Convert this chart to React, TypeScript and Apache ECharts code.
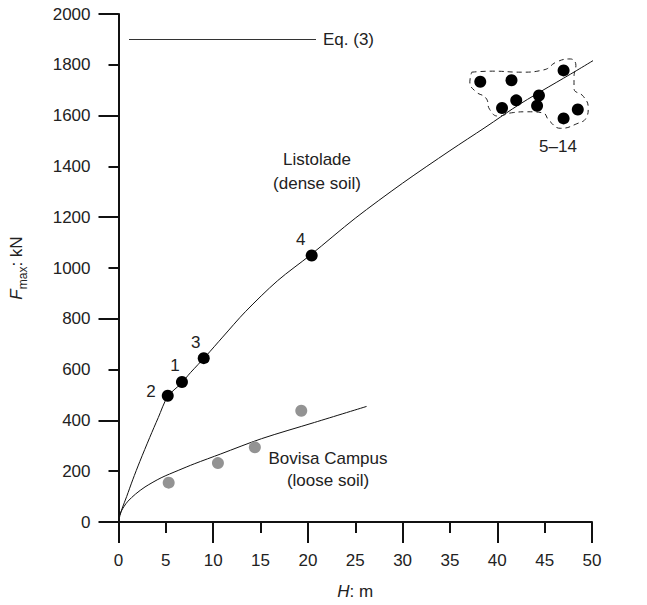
import React, { useEffect, useRef } from "react";
import * as echarts from "echarts";

// Eq. (3) curves
const listoladeCurveH = [0, 0.15, 0.4, 0.86, 1.5, 2.25, 3.3, 4.2, 5.2, 6.6, 7.6, 9.2, 11, 13.4, 16.8, 20.3, 25, 30, 35, 38.7, 42.5, 48.4, 52.4];
const listoladeCurveF = [0, 25, 55, 100, 166, 238, 333, 411, 494, 545, 588, 652, 728, 828, 950, 1052, 1196, 1334, 1462, 1553, 1648, 1778, 1868];
const bovisaCurveH = [0, 0.1, 0.3, 0.6, 1.0, 1.8, 2.8, 4.5, 6.3, 8.0, 10.8, 15.1, 20.7, 26.2];
const bovisaCurveF = [0, 25, 43, 62, 82, 110, 138, 174, 203, 229, 268, 328, 392, 455];

// Listolade piles 1-4
const pileLabels = ["2", "1", "3", "4"];
const pileH = [5.2, 6.7, 9.0, 20.4];
const pileF = [497, 551, 645, 1049];

// Listolade piles 5-14
const clusterH = [38.2, 41.5, 47.0, 44.4, 44.2, 42.0, 40.5, 48.5, 47.0];
const clusterF = [1733, 1739, 1778, 1679, 1639, 1660, 1630, 1624, 1589];

// Bovisa Campus piles
const bovisaH = [5.3, 10.5, 14.4, 19.3];
const bovisaF = [155, 232, 294, 438];

// dashed outline around piles 5-14
const outlineH = [37.3, 39.5, 42.5, 44.9, 46.3, 47.7, 48.3, 48.1, 48.1, 49.1, 49.6, 49.4, 48.4, 46.7, 45.5, 44.8, 43.2, 41.5, 40.1, 39.2, 38.8, 37.7, 37.1, 37.3];
const outlineF = [1771, 1775, 1771, 1780, 1812, 1823, 1797, 1752, 1707, 1675, 1630, 1592, 1568, 1550, 1579, 1611, 1615, 1611, 1598, 1624, 1669, 1695, 1733, 1771];

const xMin = 0, xMax = 50, yMin = 0, yMax = 2000;

const zip = (a: number[], b: number[]) => a.map((v, i) => [v, b[i]]);

const pileLabelPos: any[] = [
  { position: "left", distance: 6, offset: [0, -4] },
  { position: "top", offset: [-7, 3] },
  { position: "top", offset: [-8, 4] },
  { position: "top", offset: [-11, 3] },
];

export default function App() {
  const ref = useRef<HTMLDivElement>(null);
  useEffect(() => {
    const chart = echarts.init(ref.current!, undefined, { renderer: "svg" });
    const font = "Arial, 'Liberation Sans', sans-serif";
    const txt = "#222";
    const axisCommon = {
      axisLine: { show: true, onZero: false, lineStyle: { color: "#111", width: 2 } },
      splitLine: { show: false },
    };
    chart.setOption({
      animation: false,
      backgroundColor: "#fff",
      textStyle: { fontFamily: font },
      grid: { left: 112, right: 55, top: 14, bottom: 72 },
      legend: {
        data: [{ name: "Eq. (3)", icon: "rect" }],
        left: 129,
        top: 31,
        padding: 0,
        itemWidth: 187,
        itemHeight: 1,
        itemStyle: { color: "#333" },
        textStyle: { fontSize: 17, color: txt, fontFamily: font, padding: [0, 0, 0, 2] },
        selectedMode: false,
      },
      xAxis: [
        {
          type: "value", min: xMin, max: xMax, interval: 5, position: "bottom",
          ...axisCommon,
          axisTick: { show: true, inside: false, length: 11, lineStyle: { color: "#111", width: 2 } },
          axisLabel: { fontSize: 17, color: txt, margin: 30, fontFamily: font },
          name: "{i|H}: m",
          nameLocation: "middle",
          nameGap: 61,
          nameTextStyle: { fontSize: 17, color: txt, fontFamily: font, rich: { i: { fontStyle: "italic", fontSize: 17, fontFamily: font } } },
        },
        {
          type: "value", min: xMin, max: xMax, interval: 10, position: "bottom",
          axisLine: { show: false },
          splitLine: { show: false },
          axisTick: { show: true, inside: false, length: 21, lineStyle: { color: "#111", width: 2 } },
          axisLabel: { show: false },
        },
      ],
      yAxis: [
        {
          type: "value", min: yMin, max: yMax, interval: 200, position: "left",
          ...axisCommon,
          axisTick: { show: true, inside: false, length: 10, lineStyle: { color: "#111", width: 2 } },
          axisLabel: { fontSize: 17, color: txt, margin: 28, fontFamily: font, formatter: (v: number) => String(v) },
          name: "{i|F}{s|max}: kN",
          nameLocation: "middle",
          nameGap: 90,
          nameRotate: 90,
          nameTextStyle: {
            fontSize: 17, color: txt, fontFamily: font,
            rich: {
              i: { fontStyle: "italic", fontSize: 17, fontFamily: font, lineHeight: 24 },
              s: { fontSize: 12, fontFamily: font, verticalAlign: "bottom", lineHeight: 24, padding: [8, 0, 0, 0] },
            },
          },
        },
        {
          type: "value", min: yMin, max: yMax, interval: 400, position: "left", offset: 0,
          axisLine: { show: false },
          splitLine: { show: false },
          axisTick: { show: true, inside: false, length: 20, lineStyle: { color: "#111", width: 2 } },
          axisLabel: { show: false },
        },
      ],
      series: [
        {
          name: "Eq. (3)", type: "line", data: zip(listoladeCurveH, listoladeCurveF),
          symbol: "none", smooth: 0.3, clip: false,
          lineStyle: { color: "#111", width: 1 }, itemStyle: { color: "#333" }, z: 2,
        },
        {
          name: "Eq. (3)", type: "line", data: zip(bovisaCurveH, bovisaCurveF),
          symbol: "none", smooth: 0.3, clip: false,
          lineStyle: { color: "#111", width: 1 }, itemStyle: { color: "#333" }, z: 2,
        },
        {
          name: "outline", type: "line", data: zip(outlineH, outlineF),
          symbol: "none", smooth: 0.5, clip: false,
          lineStyle: { color: "#222", width: 1, type: [5, 4] }, z: 2,
        },
        {
          name: "Listolade 1-4", type: "scatter", symbolSize: 12,
          data: pileH.map((h, i) => ({
            value: [h, pileF[i]],
            label: { show: true, formatter: pileLabels[i], fontSize: 17, color: txt, fontFamily: font, ...pileLabelPos[i] },
          })),
          itemStyle: { color: "#000", opacity: 1 }, z: 3,
        },
        {
          name: "Listolade 5-14", type: "scatter", symbolSize: 12, clip: false,
          data: zip(clusterH, clusterF),
          itemStyle: { color: "#000", opacity: 1 }, z: 3,
        },
        {
          name: "Bovisa Campus", type: "scatter", symbolSize: 12,
          data: zip(bovisaH, bovisaF),
          itemStyle: { color: "#939393", opacity: 1 }, z: 3,
        },
      ],
      graphic: [
        { type: "text", x: 317, y: 159, style: { text: "Listolade", font: `17px ${font}`, fill: txt, align: "center", verticalAlign: "middle" } },
        { type: "text", x: 317, y: 183, style: { text: "(dense soil)", font: `17px ${font}`, fill: txt, align: "center", verticalAlign: "middle" } },
        { type: "text", x: 328, y: 458, style: { text: "Bovisa Campus", font: `17px ${font}`, fill: txt, align: "center", verticalAlign: "middle" } },
        { type: "text", x: 328, y: 480, style: { text: "(loose soil)", font: `17px ${font}`, fill: txt, align: "center", verticalAlign: "middle" } },
        { type: "text", x: 558, y: 146, style: { text: "5–14", font: `17px ${font}`, fill: txt, align: "center", verticalAlign: "middle" } },
      ],
    });
    return () => chart.dispose();
  }, []);
  return <div ref={ref} style={{ position: "fixed", left: 0, top: 0, width: 647, height: 605 }} />;
}
